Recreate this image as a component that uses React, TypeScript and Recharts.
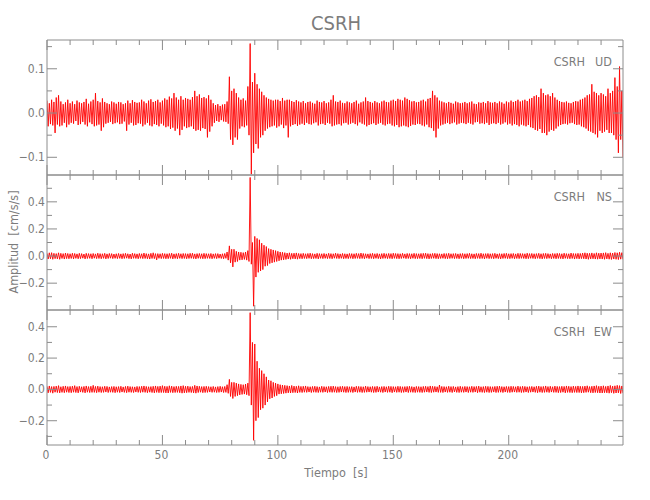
import { Line, LineChart, XAxis, YAxis } from "recharts";

// one pair of readings per second: the crest, then the trough half a second later
const seconds = Array.from({ length: 250 }, (_, i) => i);

// readings in thousandths of cm/s/s
const udHi = [
  28, 22, 30, 25, 35, 40, 26, 20, 24, 30,
  22, 26, 20, 28, 24, 22, 25, 32, 21, 26,
  30, 45, 27, 24, 33, 25, 22, 20, 26, 24,
  21, 25, 24, 20, 22, 28, 22, 29, 25, 23,
  24, 30, 26, 22, 28, 31, 25, 27, 30, 24,
  28, 33, 30, 37, 33, 45, 35, 30, 38, 30,
  34, 32, 30, 36, 50, 38, 42, 34, 36, 33,
  40, 30, 22, 18, 20, 16, 19, 20, 26, 82,
  50, 55, 45, 35, 30, 33, 28, 60, 157, 70,
  90, 65, 55, 48, 40, 35, 32, 30, 28, 30,
  30, 27, 34, 28, 30, 30, 27, 25, 29, 26,
  24, 27, 22, 25, 26, 23, 21, 28, 25, 24,
  27, 22, 24, 30, 40, 26, 25, 28, 23, 22,
  26, 24, 22, 25, 28, 21, 24, 26, 35, 27,
  25, 23, 27, 24, 22, 26, 28, 25, 24, 28,
  30, 27, 32, 30, 28, 35, 32, 29, 26, 27,
  24, 25, 28, 30, 26, 32, 34, 50, 40, 35,
  28, 26, 24, 22, 25, 23, 21, 26, 24, 22,
  23, 25, 22, 24, 26, 21, 20, 24, 23, 25,
  22, 27, 24, 23, 25, 22, 26, 24, 21, 26,
  24, 28, 25, 27, 30, 26, 28, 30, 27, 32,
  34, 38, 40, 36, 55, 45, 40, 42, 38, 45,
  35, 30, 27, 25, 24, 26, 23, 22, 25, 27,
  26, 30, 32, 35, 40, 42, 65, 48, 45, 40,
  45, 42, 38, 55, 45, 50, 80, 60, 105, 50,
];

const udLo = [
  -30, -25, -28, -45, -26, -30, -28, -22, -32, -26,
  -22, -24, -18, -27, -25, -20, -26, -30, -21, -25,
  -30, -28, -26, -40, -32, -24, -22, -20, -25, -23,
  -21, -25, -24, -19, -40, -26, -22, -28, -27, -23,
  -24, -30, -26, -22, -28, -30, -25, -27, -30, -24,
  -28, -32, -30, -36, -33, -40, -35, -50, -38, -30,
  -34, -32, -30, -36, -40, -38, -40, -34, -36, -55,
  -42, -30, -22, -18, -20, -16, -19, -20, -24, -60,
  -72, -55, -60, -35, -30, -32, -28, -50, -138, -90,
  -70, -80, -55, -50, -40, -35, -32, -30, -28, -33,
  -30, -26, -34, -28, -55, -30, -27, -25, -29, -26,
  -24, -27, -22, -25, -26, -23, -21, -28, -25, -24,
  -27, -22, -24, -30, -28, -26, -25, -28, -23, -22,
  -26, -24, -22, -25, -28, -21, -24, -26, -30, -27,
  -25, -23, -27, -24, -22, -26, -28, -25, -24, -28,
  -30, -27, -32, -30, -28, -30, -32, -29, -26, -27,
  -24, -25, -28, -30, -26, -32, -34, -40, -55, -35,
  -28, -26, -24, -22, -25, -23, -21, -26, -24, -22,
  -23, -25, -22, -24, -26, -21, -20, -24, -23, -25,
  -22, -27, -24, -23, -25, -22, -26, -24, -21, -26,
  -24, -28, -25, -27, -30, -26, -28, -30, -27, -32,
  -34, -38, -40, -36, -45, -45, -50, -42, -38, -40,
  -35, -30, -27, -25, -24, -26, -23, -22, -25, -27,
  -26, -30, -32, -35, -40, -42, -45, -48, -55, -40,
  -45, -42, -38, -45, -45, -50, -60, -90, -60, -100,
];

const nsHi = [
  20, 24, 25, 20, 18, 24, 20, 18, 22, 19,
  17, 21, 19, 16, 20, 18, 15, 20, 18, 17,
  19, 16, 21, 18, 17, 20, 16, 19, 18, 15,
  17, 19, 16, 18, 20, 17, 15, 21, 18, 16,
  19, 17, 22, 18, 16, 20, 24, 18, 18, 17,
  20, 18, 17, 19, 21, 16, 18, 20, 17, 19,
  18, 17, 20, 21, 16, 18, 19, 17, 20, 18,
  17, 19, 16, 18, 18, 15, 17, 19, 30, 75,
  50, 50, 35, 30, 28, 25, 30, 40, 580, 100,
  145, 130, 120, 95, 80, 70, 55, 50, 45, 40,
  35, 30, 28, 25, 22, 24, 20, 21, 23, 19,
  18, 20, 17, 19, 21, 18, 16, 20, 18, 17,
  19, 16, 20, 18, 17, 21, 18, 16, 19, 17,
  16, 19, 18, 17, 20, 18, 22, 19, 17, 16,
  18, 20, 17, 19, 16, 18, 20, 17, 19, 18,
  21, 19, 18, 17, 20, 16, 19, 18, 17, 20,
  18, 17, 19, 20, 21, 18, 17, 19, 20, 18,
  17, 16, 19, 18, 20, 17, 18, 19, 16, 18,
  19, 17, 18, 20, 17, 16, 19, 18, 21, 17,
  18, 19, 17, 18, 20, 16, 18, 17, 19, 20,
  17, 18, 19, 16, 20, 19, 18, 17, 21, 18,
  19, 17, 18, 20, 17, 19, 20, 18, 16, 19,
  18, 20, 19, 17, 21, 18, 17, 22, 19, 18,
  20, 19, 22, 24, 21, 20, 23, 19, 24, 21,
  22, 23, 25, 20, 24, 22, 26, 24, 28, 25,
];

const nsLo = [
  -22, -20, -24, -19, -21, -24, -18, -22, -19, -20,
  -18, -21, -17, -20, -19, -16, -21, -18, -17, -20,
  -16, -19, -18, -20, -17, -21, -18, -16, -19, -17,
  -19, -17, -20, -18, -16, -19, -21, -17, -18, -20,
  -17, -19, -18, -20, -22, -18, -19, -28, -17, -19,
  -18, -20, -19, -17, -21, -18, -20, -17, -19, -18,
  -20, -18, -17, -19, -21, -17, -18, -20, -19, -17,
  -18, -20, -17, -19, -16, -18, -20, -17, -30, -50,
  -80, -45, -40, -30, -28, -25, -30, -40, -60, -370,
  -155, -120, -110, -100, -75, -70, -55, -50, -45, -40,
  -35, -30, -28, -25, -22, -24, -20, -21, -23, -19,
  -20, -18, -19, -17, -20, -19, -18, -21, -17, -19,
  -17, -19, -18, -20, -16, -18, -19, -17, -20, -18,
  -19, -17, -20, -18, -17, -19, -18, -20, -16, -19,
  -18, -20, -17, -19, -21, -18, -17, -19, -18, -20,
  -17, -19, -20, -18, -16, -19, -18, -20, -17, -19,
  -19, -18, -20, -17, -19, -21, -18, -17, -19, -20,
  -18, -17, -19, -20, -18, -17, -19, -18, -20, -17,
  -20, -18, -17, -19, -18, -20, -17, -19, -18, -21,
  -17, -19, -18, -20, -17, -19, -21, -18, -17, -19,
  -19, -17, -20, -18, -19, -17, -18, -20, -19, -17,
  -18, -20, -17, -19, -21, -18, -19, -17, -20, -18,
  -20, -18, -19, -21, -17, -19, -20, -18, -22, -19,
  -21, -19, -20, -22, -24, -21, -20, -22, -23, -21,
  -22, -24, -21, -23, -25, -22, -24, -26, -23, -25,
];

const ewHi = [
  20, 22, 18, 19, 21, 24, 17, 20, 22, 18,
  19, 21, 24, 18, 20, 17, 19, 22, 18, 20,
  26, 19, 21, 18, 17, 20, 19, 16, 18, 19,
  17, 18, 20, 16, 19, 21, 18, 17, 16, 19,
  18, 20, 22, 19, 17, 18, 20, 22, 19, 21,
  24, 20, 19, 23, 21, 18, 20, 19, 22, 24,
  20, 21, 18, 19, 26, 22, 20, 18, 19, 20,
  18, 17, 19, 16, 18, 20, 17, 19, 30, 64,
  45, 45, 40, 35, 32, 30, 34, 40, 490, 300,
  290, 180, 135, 120, 100, 80, 60, 55, 45, 40,
  35, 30, 28, 26, 24, 22, 25, 21, 20, 23,
  19, 20, 22, 18, 17, 19, 20, 18, 16, 20,
  18, 17, 19, 20, 21, 18, 17, 19, 20, 18,
  19, 17, 18, 16, 20, 19, 18, 17, 21, 18,
  17, 19, 18, 20, 16, 18, 19, 17, 20, 19,
  18, 17, 20, 19, 17, 18, 19, 20, 18, 16,
  19, 18, 17, 19, 20, 18, 22, 20, 19, 17,
  28, 19, 18, 17, 20, 18, 19, 16, 18, 20,
  17, 19, 18, 17, 20, 18, 19, 21, 17, 18,
  20, 19, 18, 17, 19, 20, 21, 18, 17, 19,
  18, 20, 19, 17, 21, 18, 20, 19, 17, 18,
  19, 17, 20, 21, 18, 19, 22, 18, 20, 17,
  21, 19, 18, 20, 19, 22, 20, 18, 21, 19,
  22, 20, 19, 21, 23, 18, 20, 22, 24, 20,
  21, 23, 19, 22, 25, 21, 23, 26, 24, 22,
];

const ewLo = [
  -22, -19, -24, -18, -20, -22, -19, -21, -18, -20,
  -21, -18, -20, -22, -17, -19, -22, -18, -20, -19,
  -19, -21, -18, -20, -19, -17, -20, -18, -19, -21,
  -18, -20, -17, -19, -21, -18, -19, -20, -17, -19,
  -20, -18, -19, -21, -18, -20, -22, -19, -21, -20,
  -20, -22, -23, -19, -21, -20, -19, -21, -24, -22,
  -21, -19, -20, -22, -24, -20, -18, -21, -20, -19,
  -17, -19, -18, -20, -19, -17, -20, -19, -25, -45,
  -58, -45, -40, -35, -32, -30, -34, -40, -100, -325,
  -200, -180, -130, -120, -100, -80, -60, -55, -45, -40,
  -30, -28, -26, -24, -22, -23, -21, -20, -23, -19,
  -20, -18, -19, -17, -20, -18, -19, -20, -18, -19,
  -17, -20, -18, -19, -18, -20, -19, -17, -18, -20,
  -19, -18, -20, -17, -19, -18, -20, -19, -18, -17,
  -18, -20, -19, -17, -18, -20, -17, -19, -18, -21,
  -17, -19, -18, -20, -19, -17, -20, -18, -19, -20,
  -18, -19, -20, -18, -17, -19, -20, -18, -17, -19,
  -19, -20, -17, -19, -18, -20, -16, -19, -20, -18,
  -19, -17, -20, -18, -19, -17, -21, -18, -19, -20,
  -18, -20, -19, -17, -20, -19, -18, -20, -17, -19,
  -20, -18, -17, -19, -18, -20, -19, -17, -20, -18,
  -17, -19, -21, -18, -20, -19, -18, -20, -17, -19,
  -19, -21, -20, -18, -22, -19, -20, -21, -19, -20,
  -20, -22, -21, -19, -18, -21, -22, -20, -21, -23,
  -23, -21, -22, -24, -21, -25, -23, -22, -26, -24,
];

const timeTicks = [0, 10, 20, 30, 40, 50, 60, 70, 80, 90, 100, 110, 120, 130, 140, 150, 160, 170, 180, 190, 200, 210, 220, 230, 240];
const timeLabels = [0, 50, 100, 150, 200];

const udTicks = [-0.1, -0.05, 0, 0.05, 0.1, 0.15];
const udLabels = [-0.1, 0, 0.1];
const nsTicks = [-0.3, -0.2, -0.1, 0, 0.1, 0.2, 0.3, 0.4, 0.5];
const nsLabels = [-0.2, 0, 0.2, 0.4];
const ewTicks = [-0.3, -0.2, -0.1, 0, 0.1, 0.2, 0.3, 0.4];
const ewLabels = [-0.2, 0, 0.2, 0.4];

const data = seconds.flatMap((t, i) => [
  { t, ud: udHi[i] / 1000, ns: nsHi[i] / 1000, ew: ewHi[i] / 1000 },
  { t: t + 0.5, ud: udLo[i] / 1000, ns: nsLo[i] / 1000, ew: ewLo[i] / 1000 },
]);

const AXIS = "#8c8c8c";
const TEXT = "#7c7c7c";
const FONT = "'Liberation Sans Narrow', 'DejaVu Sans Condensed', sans-serif";
const TRACE = "#ff0000";
const T_MAX = 249.5;

const has = (list: number[], v: number) => list.some(m => Math.abs(m - v) < 1e-6);

const fmtY = (v: number) => (v < 0 ? "\u2212" : "") + Math.abs(v).toFixed(1);

type TickProps = { x: number; y: number; payload: { value: number } };

function leftTick(labels: number[]) {
  return ({ x, y, payload }: TickProps) => {
    const major = has(labels, payload.value);
    return (
      <g>
        <line x1={x} x2={x + (major ? 10 : 5)} y1={y} y2={y} stroke={AXIS} />
        {major && (
          <text x={x - 2} y={y + 4} textAnchor="end" fontSize={12} fill={TEXT} fontFamily={FONT}>
            {fmtY(payload.value)}
          </text>
        )}
      </g>
    );
  };
}

function rightTick(labels: number[]) {
  return ({ x, y, payload }: TickProps) => {
    const major = has(labels, payload.value);
    return <line x1={x} x2={x - (major ? 10 : 5)} y1={y} y2={y} stroke={AXIS} />;
  };
}

function bottomTick(showLabels: boolean) {
  return ({ x, y, payload }: TickProps) => {
    const major = has(timeLabels, payload.value);
    return (
      <g>
        <line x1={x} x2={x} y1={y} y2={y - (major ? 10 : 5)} stroke={AXIS} />
        {showLabels && major && (
          <text x={x - 1} y={y + 14} textAnchor="middle" fontSize={12} fill={TEXT} fontFamily={FONT}>
            {payload.value}
          </text>
        )}
      </g>
    );
  };
}

function topTick({ x, y, payload }: TickProps) {
  const major = has(timeLabels, payload.value);
  return <line x1={x} x2={x} y1={y} y2={y + (major ? 10 : 5)} stroke={AXIS} />;
}

type PanelProps = {
  dataKey: string;
  domain: [number, number];
  ticks: number[];
  labels: number[];
  top: number;
  bottom: number;
  showTime: boolean;
};

function Panel({ dataKey, domain, ticks, labels, top, bottom, showTime }: PanelProps) {
  return (
    <div style={{ position: "absolute", left: 0, top: 0 }}>
      <LineChart
        width={650}
        height={500}
        data={data}
        margin={{ top: top - 1, bottom: 500 - bottom - 1, left: 46, right: 26 }}
      >
        <XAxis
          xAxisId="b"
          dataKey="t"
          type="number"
          domain={[0, T_MAX]}
          ticks={timeTicks}
          interval={0}
          orientation="bottom"
          height={1}
          tickSize={0}
          tickMargin={0}
          tickLine={false}
          axisLine={{ stroke: AXIS }}
          tick={bottomTick(showTime)}
          allowDataOverflow
        />
        <XAxis
          xAxisId="t"
          dataKey="t"
          type="number"
          domain={[0, T_MAX]}
          ticks={timeTicks}
          interval={0}
          orientation="top"
          height={1}
          tickSize={0}
          tickMargin={0}
          tickLine={false}
          axisLine={{ stroke: AXIS }}
          tick={topTick}
          allowDataOverflow
        />
        <YAxis
          yAxisId="l"
          type="number"
          domain={domain}
          ticks={ticks}
          interval={0}
          width={1}
          tickSize={0}
          tickMargin={0}
          tickLine={false}
          axisLine={{ stroke: AXIS }}
          tick={leftTick(labels)}
          allowDataOverflow
        />
        <YAxis
          yAxisId="r"
          orientation="right"
          type="number"
          domain={domain}
          ticks={ticks}
          interval={0}
          width={1}
          tickSize={0}
          tickMargin={0}
          tickLine={false}
          axisLine={{ stroke: AXIS }}
          tick={rightTick(labels)}
          allowDataOverflow
        />
        <Line
          xAxisId="b"
          yAxisId="l"
          type="linear"
          dataKey={dataKey}
          stroke={TRACE}
          strokeWidth={0.9}
          dot={false}
          activeDot={false}
          isAnimationActive={false}
        />
      </LineChart>
    </div>
  );
}

const panels = [
  { key: "ud", name: "UD", top: 40 },
  { key: "ns", name: "NS", top: 175 },
  { key: "ew", name: "EW", top: 310 },
];

export default function App() {
  return (
    <div style={{ position: "absolute", left: 0, top: 0, width: 650, height: 500, background: "#fff" }}>
      <Panel dataKey="ud" domain={[-0.14, 0.165]} ticks={udTicks} labels={udLabels} top={40} bottom={175} showTime={false} />
      <Panel dataKey="ns" domain={[-0.398, 0.598]} ticks={nsTicks} labels={nsLabels} top={175} bottom={310} showTime={false} />
      <Panel dataKey="ew" domain={[-0.355, 0.507]} ticks={ewTicks} labels={ewLabels} top={310} bottom={445} showTime />
      <svg
        width={650}
        height={500}
        style={{ position: "absolute", left: 0, top: 0, pointerEvents: "none" }}
        fontFamily={FONT}
        fill={TEXT}
      >
        <text x={336} y={30} textAnchor="middle" fontSize={20}>
          CSRH
        </text>
        {panels.map(p => (
          <g key={p.key} fontSize={12.5}>
            <text x={585} y={p.top + 26} textAnchor="end">
              CSRH
            </text>
            <text x={612} y={p.top + 26} textAnchor="end">
              {p.name}
            </text>
          </g>
        ))}
        <text x={336} y={477} textAnchor="middle" fontSize={12.5} style={{ whiteSpace: "pre" }}>
          Tiempo  [s]
        </text>
        <text
          transform="translate(18,242) rotate(-90)"
          textAnchor="middle"
          fontSize={12.5}
          style={{ whiteSpace: "pre" }}
        >
          Amplitud  [cm/s/s]
        </text>
      </svg>
    </div>
  );
}
